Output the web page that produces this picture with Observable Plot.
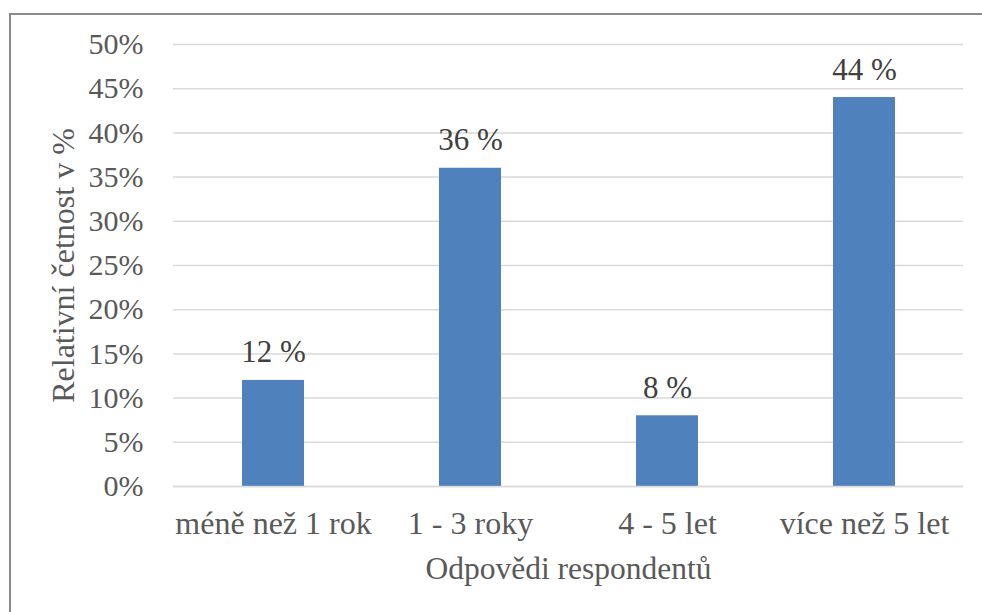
<!DOCTYPE html>
<html><head><meta charset="utf-8">
<script src="https://cdn.jsdelivr.net/npm/d3@7"></script>
<script src="https://cdn.jsdelivr.net/npm/@observablehq/plot@0.6"></script>
<style>
html,body{margin:0;padding:0;background:#fff;width:982px;height:612px;overflow:hidden;font-family:"Liberation Serif","Times New Roman",serif;}
#wrap{position:relative;width:982px;height:612px;}
#border{position:absolute;left:9px;top:13px;width:990px;height:620px;border:2px solid #8a8a8a;pointer-events:none;box-sizing:border-box;}
#pre{position:absolute;left:0;top:0;font-size:32px;color:#fff;opacity:0.01;}
</style></head>
<body><div id="wrap"><div id="pre">méně než 1 rok 50%</div><div id="border"></div></div>
<script>
const categories = ["méně než 1 rok", "1 - 3 roky", "4 - 5 let", "více než 5 let"];
const values = [12, 36, 8, 44];
const yTicks = [0, 5, 10, 15, 20, 25, 30, 35, 40, 45, 50];
const xTitle = "Odpovědi respondentů";
const yTitle = "Relativní četnost v %";

const data = categories.map((c, i) => ({cat: c, val: values[i]}));
const ff = "Liberation Serif, Times New Roman, serif";

const chart = Plot.plot({
  width: 982, height: 612,
  marginLeft: 173, marginRight: 19, marginTop: 44, marginBottom: 126,
  style: {background: "transparent", overflow: "visible"},
  x: {domain: categories, paddingInner: 0.686, paddingOuter: 0.343, label: null},
  y: {domain: [0, 50], label: null},
  marks: [
    Plot.gridY(yTicks, {stroke: "#d9d9d9", strokeOpacity: 1, strokeWidth: 1.5}),
    Plot.barY(data, {x: "cat", y: "val", fill: "#4f81bd"}),
    Plot.ruleY([0], {stroke: "#d9d9d9", strokeWidth: 1.5}),
    Plot.text(data, {x: "cat", y: "val", text: d => d.val + " %", lineAnchor: "bottom", dy: -18, fontSize: 31, fill: "#404040"}),
    Plot.axisY(yTicks, {tickSize: 0, tickPadding: 30, tickFormat: d => d + "%", fontSize: 30, color: "#595959", label: null}),
    Plot.axisX({tickSize: 0, tickPadding: 25, fontSize: 32, color: "#595959", label: null}),
    Plot.text([xTitle], {frameAnchor: "bottom", lineAnchor: "middle", textAnchor: "middle", dy: 82, fontSize: 31.5, fill: "#595959"}),
    Plot.text([yTitle], {frameAnchor: "left", textAnchor: "middle", lineAnchor: "middle", dx: -110, rotate: -90, fontSize: 32, fill: "#595959"})
  ]
});
chart.setAttribute("font-family", ff);
chart.querySelectorAll("g").forEach(g => { if (g.hasAttribute("font-family")) g.setAttribute("font-family", ff); });
const applyFont = () => chart.querySelectorAll("text").forEach(t => {
  t.setAttribute("font-family", ff);
  t.style.setProperty("font-family", "'Liberation Serif', 'Times New Roman', serif", "important");
});
applyFont();
document.getElementById("wrap").prepend(chart);
void chart.getBBox();
if (document.fonts && document.fonts.ready) document.fonts.ready.then(() => { applyFont(); void chart.getBBox(); });
</script>
</body></html>
